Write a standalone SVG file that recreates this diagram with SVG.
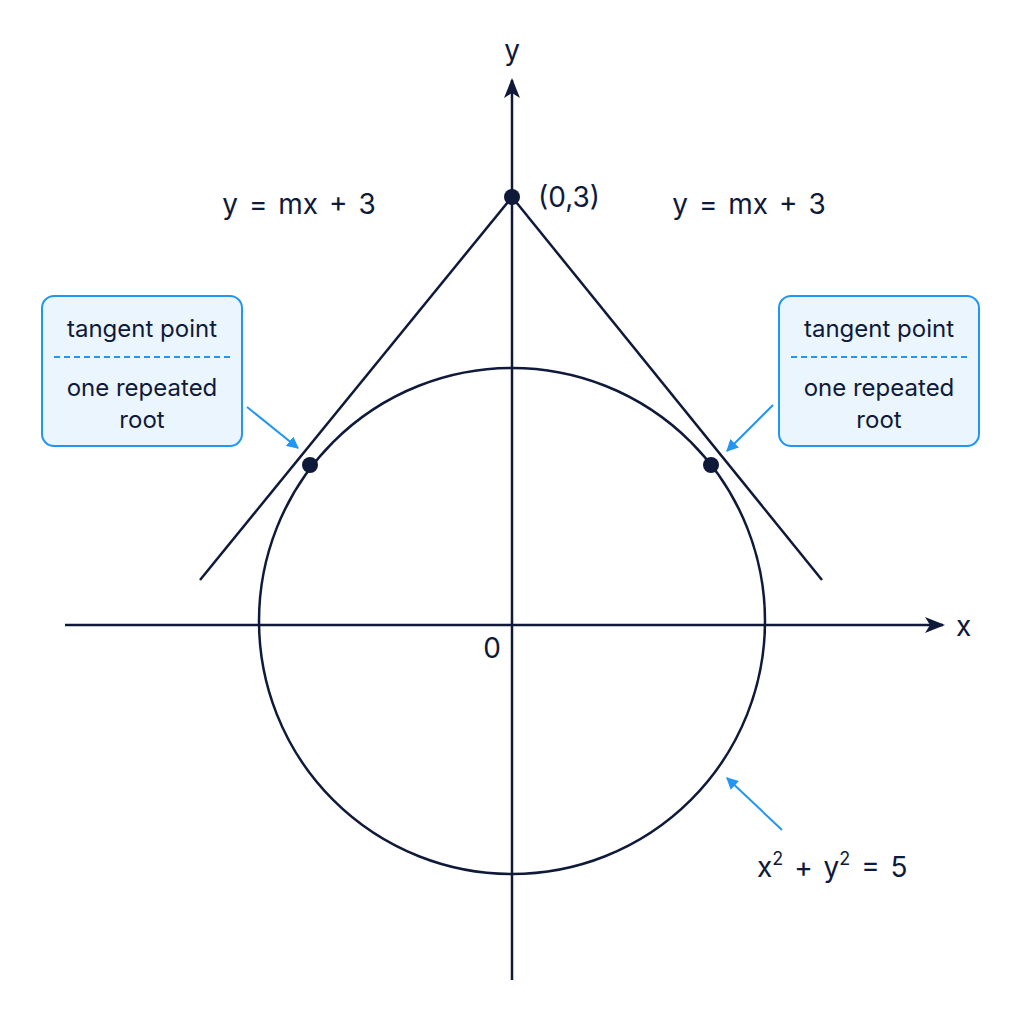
<svg xmlns="http://www.w3.org/2000/svg" width="1024" height="1024" viewBox="0 0 1024 1024">
<defs>
<marker id="ab" viewBox="0 0 10 10" refX="9" refY="5" markerWidth="12" markerHeight="12" markerUnits="userSpaceOnUse" orient="auto"><path d="M0,0 L10,5 L0,10 Z" fill="#2196f3"/></marker>
<marker id="axh" viewBox="0 0 20 20" refX="18" refY="10" markerWidth="20" markerHeight="20" markerUnits="userSpaceOnUse" orient="auto"><path d="M0,2 L20,10 L0,18 L5,10 Z" fill="#0f1a3a"/></marker>
</defs>
<style>
text{font-family:Inter,"Noto Sans","Liberation Sans",sans-serif;fill:#0f1a3a}
.lbl{font-size:28px}
.box{fill:#eaf5fe;stroke:#2196f3;stroke-width:2}
.bt{font-size:24px;text-anchor:middle}
.ln{stroke:#0f1a3a;stroke-width:2.5;fill:none}
.bl{stroke:#2196f3;stroke-width:2;fill:none}
</style>
<rect width="1024" height="1024" fill="#fff"/>
<g id="axes">
<line class="ln" x1="65" y1="625" x2="943" y2="625" marker-end="url(#axh)"/>
<line class="ln" x1="512" y1="980" x2="512" y2="80" marker-end="url(#axh)"/>
<text x="512" y="60" class="lbl" text-anchor="middle">y</text>
<text x="956" y="636" class="lbl">x</text>
<text x="492" y="658" class="lbl" text-anchor="middle">0</text>
</g>
<g id="circle">
<circle class="ln" cx="512" cy="621" r="253"/>
<text x="757" y="877" class="lbl" word-spacing="3">x<tspan font-size="18" dy="-12">2</tspan><tspan dy="12"> + y</tspan><tspan font-size="18" dy="-12">2</tspan><tspan dy="12"> = 5</tspan></text>
</g>
<g id="lines">
<line class="ln" x1="512" y1="197" x2="200" y2="580"/>
<line class="ln" x1="512" y1="197" x2="822" y2="580"/>
<text x="299" y="214" class="lbl" text-anchor="middle" word-spacing="3">y = mx + 3</text>
<text x="749" y="214" class="lbl" text-anchor="middle" word-spacing="3">y = mx + 3</text>
</g>
<g id="points">
<circle cx="512" cy="197" r="8" fill="#0f1a3a"/>
<circle cx="310" cy="465" r="8" fill="#0f1a3a"/>
<circle cx="711" cy="465" r="8" fill="#0f1a3a"/>
<text x="538" y="207" class="lbl">(0,3)</text>
</g>
<g id="callout-left">
<rect class="box" x="42" y="296" width="200" height="150" rx="12"/>
<line class="bl" x1="54" y1="357" x2="230" y2="357" stroke-dasharray="6,4"/>
<text x="142" y="337" class="bt">tangent point</text>
<text x="142" y="396" class="bt">one repeated</text>
<text x="142" y="428" class="bt">root</text>
</g>
<g id="callout-right">
<rect class="box" x="779" y="296" width="200" height="150" rx="12"/>
<line class="bl" x1="791" y1="357" x2="967" y2="357" stroke-dasharray="6,4"/>
<text x="879" y="337" class="bt">tangent point</text>
<text x="879" y="396" class="bt">one repeated</text>
<text x="879" y="428" class="bt">root</text>
</g>
<g id="connectors">
<line class="bl" x1="247" y1="407" x2="298" y2="448" marker-end="url(#ab)"/>
<line class="bl" x1="773" y1="405" x2="727" y2="451" marker-end="url(#ab)"/>
<line class="bl" x1="782" y1="830" x2="727" y2="778" marker-end="url(#ab)"/>
</g>
</svg>
